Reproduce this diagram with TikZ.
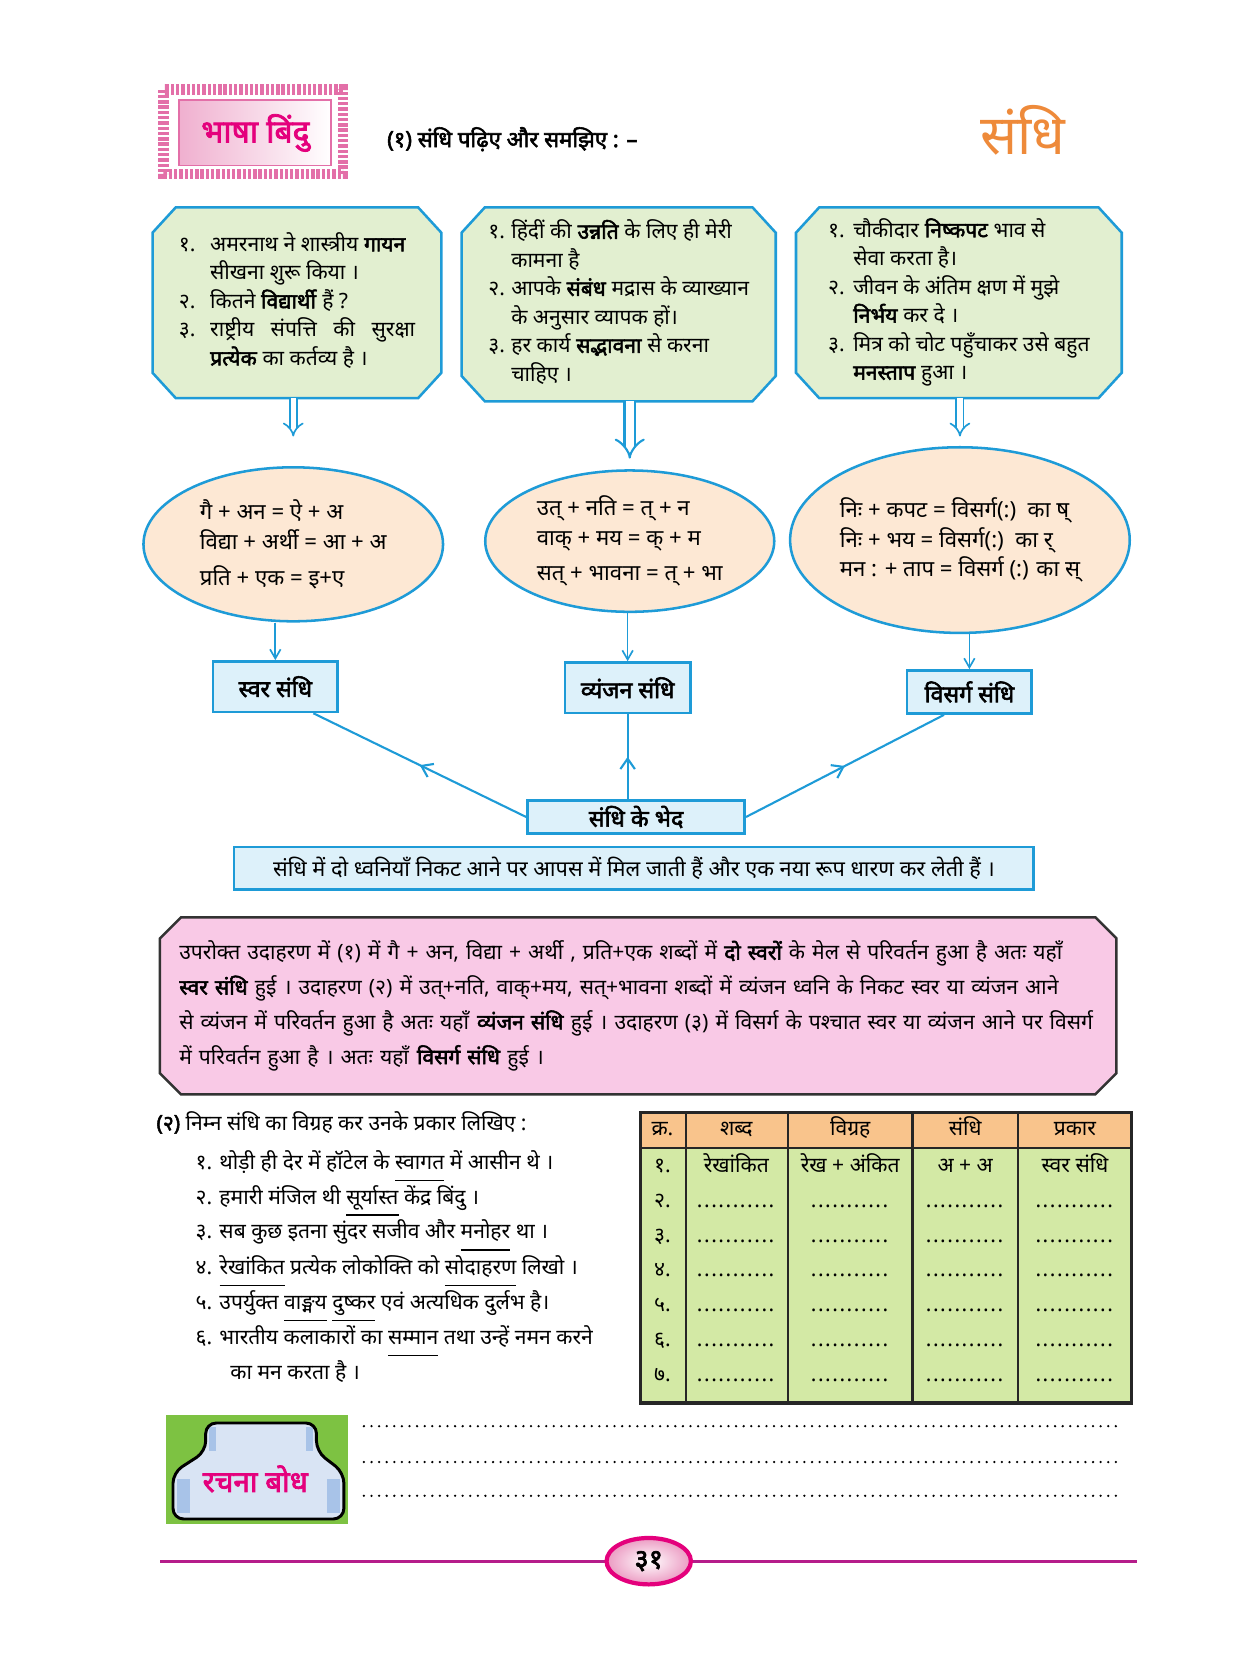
\documentclass[tikz,border=0pt]{standalone}
\usepackage{fontspec}
\setmainfont{Noto Sans}[Script=Devanagari, AutoFakeBold=2.5]
\usetikzlibrary{shapes.geometric}
\usetikzlibrary{arrows.meta}
\usetikzlibrary{decorations.markings}
\usetikzlibrary{calc}
\usetikzlibrary{backgrounds}

\definecolor{lineblue}{HTML}{1E9BD7}
\definecolor{boxgreen}{HTML}{E2EFD0}
\definecolor{peach}{HTML}{FDE8D4}
\definecolor{skyfill}{HTML}{DDF1FA}
\definecolor{pinkfill}{HTML}{F9C9E6}
\definecolor{headfill}{HTML}{F9C48C}
\definecolor{tabfill}{HTML}{D3E9A5}
\definecolor{footmag}{HTML}{B51D8A}
\definecolor{hotpink}{HTML}{E4007C}
\definecolor{pinkborder}{HTML}{E36FA8}
\definecolor{logoorange}{HTML}{EE8A3A}
\definecolor{icongreen}{HTML}{7DC242}
\definecolor{jarblue}{HTML}{D9E4F4}
\definecolor{jarside}{HTML}{A8C3E8}

\newsavebox{\rekhabox}
\newcommand{\rekha}[1]{\sbox{\rekhabox}{#1}\rlap{\raisebox{-0.55em}{\rule{\wd\rekhabox}{0.6pt}}}\usebox{\rekhabox}}
\newcommand{\puri}[1]{\makebox[435pt][s]{#1}}
\newcommand{\khali}{\hbox to 38pt{\leaders\hbox to 3.4pt{\hss.\hss}\hfill}}
% box with cut corners round a node
\newcommand{\katkona}[4]{\draw [#4] ($(#1.north west)+(#2,0)$) -- ($(#1.north east)+(-#2,0)$)
    -- ($(#1.north east)+(0,#3)$) -- ($(#1.south east)+(0,-#3)$) -- ($(#1.south east)+(-#2,0)$)
    -- ($(#1.south west)+(#2,0)$) -- ($(#1.south west)+(0,-#3)$) -- ($(#1.north west)+(0,#3)$) -- cycle;}

\begin{document}
\begin{tikzpicture}[x=0.5pt, y=-0.5pt,
    greenbox/.style={rectangle, inner sep=0pt, align=left, font=\fontsize{10}{13.5}\selectfont},
    greenline/.style={draw=lineblue, line width=1.2pt, fill=boxgreen},
    oval/.style={ellipse, draw=lineblue, line width=1.2pt, fill=peach, inner xsep=-12pt, inner ysep=0pt,
        align=left, font=\fontsize{10.5}{14}\selectfont},
    namebox/.style={rectangle, draw=lineblue, line width=1.2pt, fill=skyfill, inner sep=0pt,
        font=\fontsize{11}{13}\selectfont\bfseries},
    dbl/.style={draw=lineblue, double=white, double distance=2.6pt, line width=0.8pt, -{Implies[scale=1.7]}},
    dblbig/.style={draw=lineblue, double=white, double distance=4pt, line width=1pt, -{Implies[scale=1.7]}},
    downarrow/.style={draw=lineblue, line width=0.8pt, -{Straight Barb[angle=60:5pt]}},
    midarrow/.style={draw=lineblue, line width=1pt, postaction={decorate},
        decoration={markings, mark=at position 0.5 with {\arrow{Straight Barb[angle=70:6pt]}}}},
    rowtext/.style={anchor=west, inner sep=0pt, text height=7pt, text depth=2.5pt,
        font=\fontsize{10}{13}\selectfont},
    tabcell/.style={inner sep=0pt, text height=7pt, text depth=2.5pt, font=\fontsize{10}{13}\selectfont},
    tabline/.style={draw=black!85, line width=1pt},
    dotline/.style={draw=black, line width=1.2pt, line cap=round, dash pattern=on 0pt off 3.6pt}]
    \useasboundingbox (0,0) rectangle (1176,1568);
    % heading
    \draw [pinkborder, line width=5pt, dash pattern=on 1.6pt off 0.9pt] (155,85) rectangle (325,165);
    \node [draw=pinkborder, line width=0.8pt, left color=pinkborder!55, right color=white,
        minimum width=72pt, minimum height=31pt, text=hotpink,
        font=\fontsize{15}{17}\selectfont\bfseries] (16) at (242,126) {भाषा बिंदु};
    \node [anchor=west, font=\fontsize{10.5}{13}\selectfont\bfseries] (17) at (360,132) {(१) संधि पढ़िए और समझिए : –};
    \node [text=logoorange, font=\fontsize{26}{28}\selectfont] (18) at (970,124) {संधि};
    % examples
    \node [greenbox, minimum width=136.5pt, minimum height=90pt] (1) at (281.5,287) {%
    \begin{tabular}{@{}l@{\hspace{7pt}}l@{}}
    १. & अमरनाथ ने शास्त्रीय \textbf{गायन}\\
       & सीखना शुरू किया ।\\
    २. & कितने \textbf{विद्यार्थी} हैं ?\\
    ३. & राष्ट्रीय\ \ \ संपत्ति\ \ \ की\ \ \ सुरक्षा\\
       & \textbf{प्रत्येक} का कर्तव्य है ।
    \end{tabular}};
    \node [greenbox, minimum width=148.5pt, minimum height=91.5pt] (2) at (586.5,288.5) {%
    \begin{tabular}{@{}l@{\hspace{3pt}}l@{}}
    १. & हिंदीं की \textbf{उन्नति} के लिए ही मेरी\\
       & कामना है\\
    २. & आपके \textbf{संबंध} मद्रास के व्याख्यान\\
       & के अनुसार व्यापक हों।\\
    ३. & हर कार्य \textbf{सद्भावना} से करना\\
       & चाहिए ।
    \end{tabular}};
    \node [greenbox, minimum width=154pt, minimum height=90pt] (3) at (909,287) {%
    \begin{tabular}{@{}l@{\hspace{4pt}}l@{}}
    १. & चौकीदार \textbf{निष्कपट} भाव से\\
       & सेवा करता है।\\
    २. & जीवन के अंतिम क्षण में मुझे\\
       & \textbf{निर्भय} कर दे ।\\
    ३. & मित्र को चोट पहुँचाकर उसे बहुत\\
       & \textbf{मनस्ताप} हुआ ।
    \end{tabular}};
    % splitting
    \node [oval, minimum width=142pt, minimum height=73pt] (4) at (278,516) {%
    गै + अन = ऐ + अ\\ विद्या + अर्थी = आ + अ\\[3pt] प्रति + एक = इ+ए};
    \node [oval, minimum width=137pt, minimum height=67pt] (5) at (597,513) {%
    उत् + नति = त् + न\\ वाक् + मय = क् + म\\[3pt] सत् + भावना = त् + भा};
    \node [oval, minimum width=161pt, minimum height=88pt] (6) at (910,512) {%
    निः + कपट = विसर्ग(:)\ \ का ष्\\ निः + भय = विसर्ग(:)\ \ का र्\\ मन : + ताप = विसर्ग (:) का स्};
    \draw [dbl] (1.south -| 4.north) to ([yshift=14pt]4.north);
    \draw [dblbig] (2.south -| 5.north) to ([yshift=5pt]5.north);
    \draw [dbl] (3.south -| 6.north) to ([yshift=4.5pt]6.north);
    % kinds
    \node [namebox, minimum width=59pt, minimum height=24pt] (7) at (261,651) {स्वर संधि};
    \node [namebox, minimum width=59.5pt, minimum height=24pt] (8) at (595,652) {व्यंजन संधि};
    \node [namebox, minimum width=59pt, minimum height=20.5pt] (9) at (919,656) {विसर्ग संधि};
    \node [namebox, minimum width=103pt, minimum height=15.5pt] (10) at (603,774.5) {संधि के भेद};
    \draw [downarrow] (4.south -| 7.north) to (7.north);
    \draw [downarrow] (5.south -| 8.north) to (8.north);
    \draw [downarrow] (6.south -| 9.north) to (9.north);
    \draw [midarrow] (10.west) to ($(7.south)!0.6!(7.south east)$);
    \draw [midarrow] (8.south |- 10.north) to (8.south);
    \draw [midarrow] (10.east) to ($(9.south west)!0.6!(9.south)$);
    % definition
    \node [rectangle, draw=lineblue, line width=1.2pt, fill=skyfill, minimum width=379pt, minimum height=20pt,
        font=\fontsize{10.3}{13}\selectfont] (11) at (601,823)
        {संधि में दो ध्वनियाँ निकट आने पर आपस में मिल जाती हैं और एक नया रूप धारण कर लेती हैं ।};
    % explanation
    \node [rectangle, minimum width=453pt, minimum height=83.5pt, inner sep=0pt, text width=435pt,
        align=left, font=\fontsize{10}{16.5}\selectfont] (12) at (605,953.5) {%
    \puri{उपरोक्त उदाहरण में (१) में गै + अन, विद्या + अर्थी , प्रति+एक शब्दों में \textbf{दो स्वरों} के मेल से परिवर्तन हुआ है अतः यहाँ}\\
    \puri{\textbf{स्वर संधि} हुई । उदाहरण (२) में उत्+नति, वाक्+मय, सत्+भावना शब्दों में व्यंजन ध्वनि के निकट स्वर या व्यंजन आने}\\
    \puri{से व्यंजन में परिवर्तन हुआ है अतः यहाँ \textbf{व्यंजन संधि} हुई । उदाहरण (३) में विसर्ग के पश्चात स्वर या व्यंजन आने पर विसर्ग}\\
    में परिवर्तन हुआ है । अतः यहाँ \textbf{विसर्ग संधि} हुई ।};
    \begin{scope}[on background layer]
        \katkona{1}{22}{24}{greenline}
        \katkona{2}{22}{24}{greenline}
        \katkona{3}{22}{24}{greenline}
        \katkona{12}{20}{20}{draw=black!80, line width=1.2pt, fill=pinkfill}
    \end{scope}
    % exercise
    \node [rowtext] (13) at (148,1067) {\textbf{(२)} निम्न संधि का विग्रह कर उनके प्रकार लिखिए :};
    \node [rowtext] (21) at (185,1104) {१. थोड़ी ही देर में हॉटेल के \rekha{स्वागत} में आसीन थे ।};
    \node [rowtext] (22) at (185,1137) {२. हमारी मंजिल थी \rekha{सूर्यास्त} केंद्र बिंदु ।};
    \node [rowtext] (23) at (185,1170) {३. सब कुछ इतना सुंदर सजीव और \rekha{मनोहर} था ।};
    \node [rowtext] (24) at (185,1204) {४. \rekha{रेखांकित} प्रत्येक लोकोक्ति को \rekha{सोदाहरण} लिखो ।};
    \node [rowtext] (25) at (185,1237) {५. उपर्युक्त \rekha{वाङ्मय} \rekha{दुष्कर} एवं अत्यधिक दुर्लभ है।};
    \node [rowtext] (26) at (185,1270) {६. भारतीय कलाकारों का \rekha{सम्मान} तथा उन्हें नमन करने};
    \node [rowtext] (27) at (218,1303) {का मन करता है ।};
    % table
    \fill [headfill] (607,1055) rectangle (1073,1088);
    \fill [tabfill] (607,1088) rectangle (1073,1330);
    \foreach \x in {650,747,865,965}
        \draw [tabline] (\x,1055) -- (\x,1330);
    \draw [tabline] (607,1088) -- (1073,1088);
    \draw [tabline, line width=1.5pt] (607,1055) rectangle (1073,1330);
    \foreach \cx/\t [count=\j] in {628/क्र.,698/शब्द,806/विग्रह,915/संधि,1019/प्रकार}
        \node [tabcell] (h\j) at (\cx,1072) {\t};
    \foreach \cx/\t [count=\j] in {628/१.,698/रेखांकित,806/रेख + अंकित,915/अ + अ,1019/स्वर संधि}
        \node [tabcell] (r1\j) at (\cx,1107) {\t};
    \foreach \n [count=\i from 2] in {२,३,४,५,६,७} {
        \node [tabcell] (r\i1) at (628,{1074+33*\i}) {\n.};
        \foreach \cx [count=\j from 2] in {698,806,915,1019}
            \node [tabcell] (r\i\j) at (\cx,{1074+33*\i}) {\khali};
    }
    % rachna bodh
    \fill [icongreen] (157,1341) rectangle (330,1445);
    \fill [jarblue, rounded corners=5pt] (195,1349) -- (300,1349) -- (300,1376) -- (326,1396) -- (326,1440)
        -- (164,1440) -- (164,1396) -- (195,1376) -- cycle;
    \fill [jarside] (168,1402) rectangle (180,1434);
    \fill [jarside] (310,1402) rectangle (322,1434);
    \fill [jarside] (198,1353) rectangle (205,1376);
    \fill [jarside] (290,1353) rectangle (297,1376);
    \draw [black, line width=1.4pt, rounded corners=5pt] (195,1349) -- (300,1349) -- (300,1376) -- (326,1396)
        -- (326,1440) -- (164,1440) -- (164,1396) -- (195,1376) -- cycle;
    \node [text=hotpink, font=\fontsize{14}{16}\selectfont\bfseries] (19) at (242,1402) {रचना बोध};
    \foreach \y in {1352,1386,1418}
        \draw [dotline] (345,\y) -- (1063,\y);
    % page number
    \draw [footmag, line width=1.6pt] (152,1480) -- (1078,1480);
    \node [ellipse, draw=hotpink, line width=2pt, inner color=white, outer color=pinkborder!70,
        minimum width=40pt, minimum height=22pt, inner sep=0pt,
        font=\fontsize{13}{15}\selectfont\bfseries] (20) at (615,1480) {३१};
\end{tikzpicture}
\end{document}
